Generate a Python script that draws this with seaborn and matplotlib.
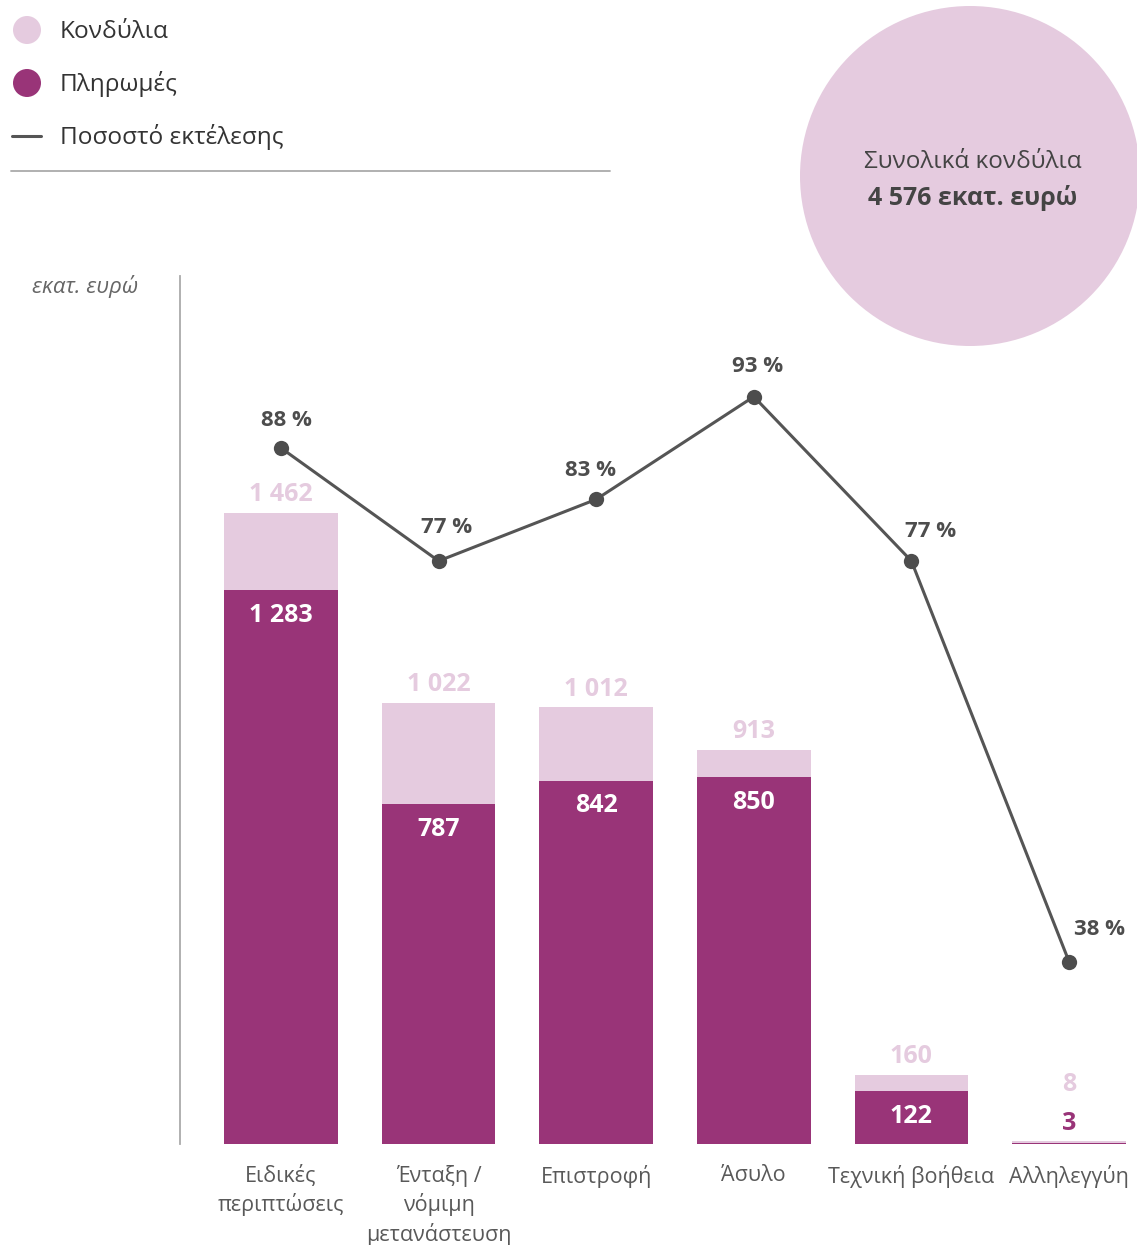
import numpy as np
import pandas as pd
import matplotlib
matplotlib.use("Agg")
import matplotlib.pyplot as plt
from matplotlib.patches import Circle
from matplotlib.lines import Line2D
import seaborn as sns

categories = ["Ειδικές\nπεριπτώσεις", "Ένταξη /\nνόμιμη\nμετανάστευση", "Επιστροφή",
              "Άσυλο", "Τεχνική βοήθεια", "Αλληλεγγύη"]
budgets = [1462, 1022, 1012, 913, 160, 8]
payments = [1283, 787, 842, 850, 122, 3]
budget_labels = ["1 462", "1 022", "1 012", "913", "160", "8"]
payment_labels = ["1 283", "787", "842", "850", "122", "3"]
rates = [88, 77, 83, 93, 77, 38]
rate_labels = ["88 %", "77 %", "83 %", "93 %", "77 %", "38 %"]
legend_labels = ["Κονδύλια", "Πληρωμές", "Ποσοστό εκτέλεσης"]
total_title = "Συνολικά κονδύλια"
total_value = "4 576 εκατ. ευρώ"
unit_label = "εκατ. ευρώ"

LIGHT = "#E5CBDF"
DARK = "#993478"
GRAY = "#555555"
TXT = "#444444"

sns.set_style("white")
plt.rcParams["font.family"] = ["Open Sans", "DejaVu Sans"]

W, H = 1137, 1245
fig = plt.figure(figsize=(W / 100, H / 100), dpi=100)

# main axes in pixel layout
left, right, top, bottom = 180, 1137, 276, 1144
ax = fig.add_axes([left / W, (H - bottom) / H, (right - left) / W, (bottom - top) / H])

df = pd.DataFrame({"cat": categories, "budget": budgets, "payment": payments})
sns.barplot(data=df, x="cat", y="budget", color=LIGHT, width=0.72, ax=ax,
            saturation=1, edgecolor="none")
sns.barplot(data=df, x="cat", y="payment", color=DARK, width=0.72, ax=ax,
            saturation=1, edgecolor="none")

px_per_unit = 0.4316
step = 157.6
ax.set_ylim(0, (bottom - top) / px_per_unit)
x0 = -(281 - left) / step
ax.set_xlim(x0, x0 + (right - left) / step)
ax.set_xlabel("")
ax.set_ylabel("")
ax.set_yticks([])
ax.tick_params(axis="x", length=0, pad=15)
ax.set_xticks(range(len(categories)))
ax.set_xticklabels(categories, fontsize=15.5, color="#595959", linespacing=1.36,
                   va="top")
for s in ["top", "right", "bottom"]:
    ax.spines[s].set_visible(False)
ax.spines["left"].set_color("#aaaaaa")
ax.spines["left"].set_linewidth(1.3)
ax.patch.set_alpha(0)

for i, (b, p) in enumerate(zip(budgets, payments)):
    if p > 50:
        ax.annotate(budget_labels[i], (i, b), xytext=(0, 4), textcoords="offset points",
                    ha="center", va="bottom", fontsize=18, fontweight="bold", color=LIGHT)
        ax.annotate(payment_labels[i], (i, p), xytext=(0, -9), textcoords="offset points",
                    ha="center", va="top", fontsize=18, fontweight="bold", color="white")
    else:
        ax.annotate(budget_labels[i], (i, b), xytext=(0, 31), textcoords="offset points",
                    ha="center", va="bottom", fontsize=18, fontweight="bold", color=LIGHT)
        ax.annotate(payment_labels[i], (i, p), xytext=(0, 5), textcoords="offset points",
                    ha="center", va="bottom", fontsize=18, fontweight="bold", color=DARK)

# percentage line on twin axis
ax2 = ax.twinx()
pct_px = 10.27
zero_y = 448 + 88 * pct_px
ax2.set_ylim((zero_y - bottom) / pct_px, (zero_y - top) / pct_px)
sns.lineplot(x=np.arange(len(rates)), y=rates, ax=ax2, color=GRAY, lw=2.2,
             marker="o", markersize=11, markeredgewidth=0, markerfacecolor="#4d4d4d")
ax2.set_yticks([])
ax2.set_ylabel("")
for s in ["top", "right", "bottom", "left"]:
    ax2.spines[s].set_visible(False)
label_offsets = [(4, 20), (6, 24), (-4, 21), (3, 22), (14, 21), (22, 23)]
for i, r in enumerate(rates):
    ax2.annotate(rate_labels[i], (i, r), xytext=label_offsets[i],
                 textcoords="offset points", ha="center", va="center",
                 fontsize=16, fontweight="bold", color="#4d4d4d")

# overlay axes in pixel coordinates for decorations
ov = fig.add_axes([0, 0, 1, 1])
ov.set_xlim(0, W)
ov.set_ylim(H, 0)
ov.axis("off")
ov.patch.set_alpha(0)

ov.add_patch(Circle((970, 176), 170, color=LIGHT, lw=0))
ov.text(973, 162, total_title, ha="center", va="center", fontsize=17.5, color=TXT)
ov.text(973, 198, total_value, ha="center", va="center", fontsize=18,
        fontweight="bold", color=TXT)

ov.add_patch(Circle((27, 30), 14, color=LIGHT, lw=0))
ov.add_patch(Circle((27, 83), 14, color=DARK, lw=0))
ov.add_line(Line2D([12, 41], [136, 136], color=GRAY, lw=2.2))
for y, t in zip([32, 84, 137], legend_labels):
    ov.text(60, y, t, ha="left", va="center", fontsize=17.6, color="#333333")
ov.add_line(Line2D([11, 610], [171, 171], color="#aaaaaa", lw=1.3))

ov.text(85, 286, unit_label, ha="center", va="center", fontsize=16,
        style="italic", color="#666666")

fig.savefig("out.png", dpi=100, facecolor="white")
